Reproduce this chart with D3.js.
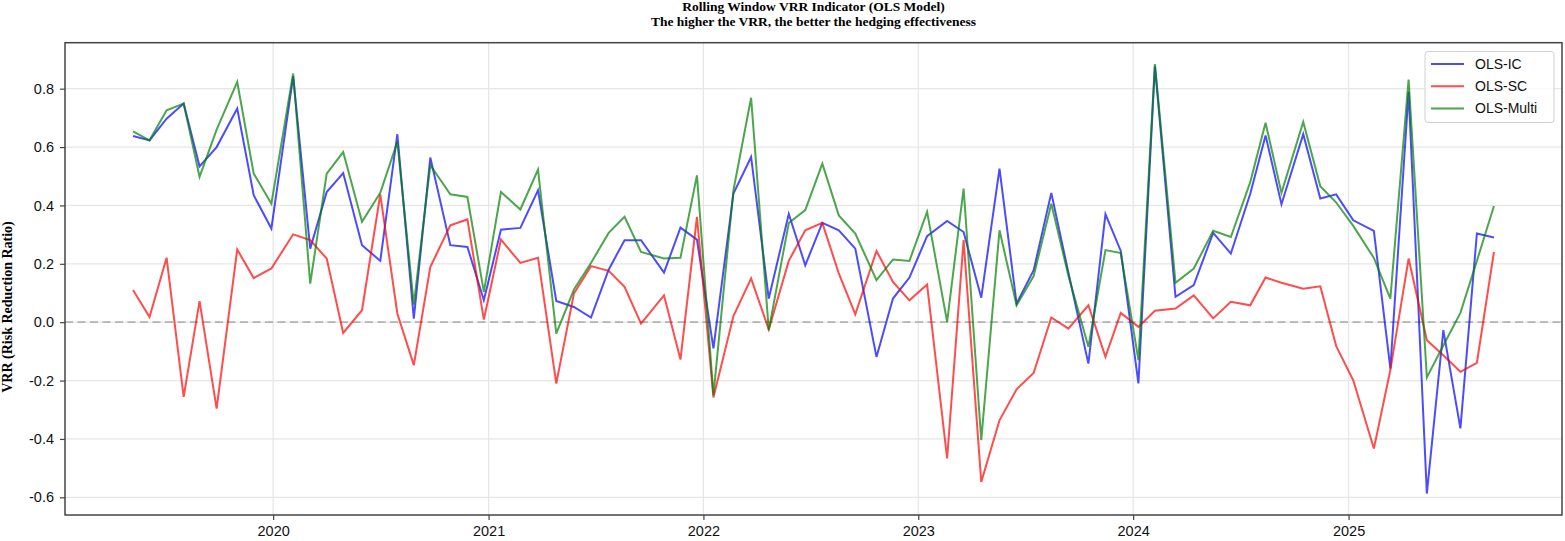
<!DOCTYPE html>
<html>
<head>
    <title>Rolling Window VRR</title>
    <meta charset="UTF-8">
    <script src="https://d3js.org/d3.v7.min.js"></script>
    <style>
        body { margin: 0; background: #fff; }
        svg { display: block; }
    </style>
</head>
<body>
<svg width="1565" height="541"></svg>
<script>
    // observation dates (every ~20 trading days)
    var dates = [
        "2019-05-08","2019-06-05","2019-07-04","2019-08-02","2019-08-29","2019-09-27","2019-11-01","2019-11-29","2019-12-29",
        "2020-02-04","2020-03-04","2020-04-01","2020-04-29","2020-05-31","2020-07-01","2020-07-30","2020-08-27","2020-09-24","2020-10-28","2020-11-26","2020-12-24",
        "2021-01-22","2021-02-24","2021-03-26","2021-04-26","2021-05-26","2021-06-24","2021-07-24","2021-08-20","2021-09-17","2021-10-26","2021-11-23","2021-12-21",
        "2022-01-18","2022-02-21","2022-03-23","2022-04-22","2022-05-26","2022-06-23","2022-07-22","2022-08-19","2022-09-16","2022-10-22","2022-11-19","2022-12-17",
        "2023-01-16","2023-02-19","2023-03-19","2023-04-18","2023-05-19","2023-06-17","2023-07-16","2023-08-15","2023-09-13","2023-10-17","2023-11-15","2023-12-11",
        "2024-01-10","2024-02-07","2024-03-13","2024-04-13","2024-05-16","2024-06-15","2024-07-18","2024-08-13","2024-09-09","2024-10-16","2024-11-14","2024-12-11",
        "2025-01-09","2025-02-13","2025-03-13","2025-04-13","2025-05-14","2025-06-11","2025-07-10","2025-08-07","2025-09-05"
    ];

    var olsIC = [
        0.638, 0.623, 0.697, 0.749, 0.534, 0.600, 0.732, 0.435, 0.321,
        0.842, 0.252, 0.446, 0.511, 0.264, 0.210, 0.644, 0.012, 0.564, 0.264, 0.258, 0.075,
        0.317, 0.323, 0.452, 0.073, 0.052, 0.016, 0.180, 0.281, 0.281, 0.170, 0.324, 0.283,
        -0.090, 0.441, 0.566, 0.081, 0.371, 0.195, 0.340, 0.315, 0.252, -0.119, 0.081, 0.153,
        0.295, 0.347, 0.309, 0.084, 0.526, 0.064, 0.178, 0.443, 0.170, -0.142, 0.370, 0.244,
        -0.210, 0.877, 0.087, 0.127, 0.306, 0.235, 0.440, 0.640, 0.404, 0.644, 0.424, 0.438,
        0.349, 0.313, -0.159, 0.789, -0.587, -0.027, -0.364, 0.304, 0.290
    ];

    var olsSC = [
        0.110, 0.018, 0.221, -0.256, 0.072, -0.296, 0.249, 0.151, 0.184,
        0.301, 0.281, 0.218, -0.037, 0.041, 0.438, 0.030, -0.147, 0.189, 0.332, 0.352, 0.009,
        0.283, 0.203, 0.221, -0.210, 0.098, 0.192, 0.176, 0.121, -0.005, 0.092, -0.128, 0.361,
        -0.258, 0.021, 0.150, -0.025, 0.210, 0.315, 0.340, 0.167, 0.027, 0.244, 0.138, 0.075,
        0.129, -0.467, 0.281, -0.547, -0.336, -0.230, -0.174, 0.016, -0.022, 0.058, -0.119, 0.032,
        -0.016, 0.039, 0.047, 0.092, 0.013, 0.070, 0.058, 0.153, 0.135, 0.115, 0.123, -0.082,
        -0.199, -0.433, -0.164, 0.218, -0.062, -0.113, -0.170, -0.139, 0.241
    ];

    var olsMulti = [
        0.654, 0.623, 0.726, 0.749, 0.498, 0.660, 0.823, 0.509, 0.406,
        0.852, 0.132, 0.509, 0.583, 0.344, 0.443, 0.618, 0.060, 0.538, 0.438, 0.429, 0.104,
        0.446, 0.386, 0.523, -0.039, 0.112, 0.203, 0.306, 0.361, 0.241, 0.218, 0.221, 0.503,
        -0.250, 0.452, 0.769, -0.027, 0.340, 0.384, 0.543, 0.366, 0.304, 0.144, 0.215, 0.210,
        0.378, 0.001, 0.458, -0.404, 0.315, 0.058, 0.158, 0.406, 0.160, -0.084, 0.247, 0.237,
        -0.130, 0.884, 0.135, 0.184, 0.313, 0.292, 0.480, 0.683, 0.443, 0.686, 0.466, 0.410,
        0.330, 0.220, 0.081, 0.831, -0.189, -0.080, 0.032, 0.210, 0.398
    ];

    var seriesNames = ["OLS-IC", "OLS-SC", "OLS-Multi"];
    var seriesColors = ["blue", "red", "green"];
    var yTicks = [-0.6, -0.4, -0.2, 0.0, 0.2, 0.4, 0.6, 0.8];
    var xTicks = ["2020", "2021", "2022", "2023", "2024", "2025"];

    var plotLeft = 65, plotRight = 1562, plotTop = 42.7, plotBottom = 515;

    var parse = d3.timeParse("%Y-%m-%d");
    var dt = dates.map(parse);
    var allSeries = [olsIC, olsSC, olsMulti];

    // matplotlib style 5% margins
    var t0 = +dt[0], t1 = +dt[dt.length - 1], tpad = (t1 - t0) * 0.05;
    var vmin = d3.min(allSeries, function(s) { return d3.min(s); }),
        vmax = d3.max(allSeries, function(s) { return d3.max(s); }),
        vpad = (vmax - vmin) * 0.05;

    var x = d3.scaleTime().domain([new Date(t0 - tpad), new Date(t1 + tpad)]).range([plotLeft, plotRight]);
    var y = d3.scaleLinear().domain([vmin - vpad, vmax + vpad]).range([plotBottom, plotTop]);

    var svg = d3.select("svg");

    // grid
    svg.append("g").selectAll("line")
        .data(yTicks)
        .enter()
        .append("line")
        .attr("x1", plotLeft).attr("x2", plotRight)
        .attr("y1", function(d) { return y(d); })
        .attr("y2", function(d) { return y(d); })
        .attr("stroke", "#e6e6e6")
        .attr("stroke-width", 1.2);

    var yearDates = xTicks.map(function(s) { return parse(s + "-01-01"); });

    svg.append("g").selectAll("line")
        .data(yearDates)
        .enter()
        .append("line")
        .attr("x1", function(d) { return x(d); })
        .attr("x2", function(d) { return x(d); })
        .attr("y1", plotTop).attr("y2", plotBottom)
        .attr("stroke", "#e6e6e6")
        .attr("stroke-width", 1.2);

    // zero reference line
    svg.append("line")
        .attr("x1", plotLeft).attr("x2", plotRight)
        .attr("y1", y(0)).attr("y2", y(0))
        .attr("stroke", "#b3b3b3")
        .attr("stroke-width", 1.8)
        .attr("stroke-dasharray", "8,4.5");

    // series
    var line = d3.line()
        .x(function(d, i) { return x(dt[i]); })
        .y(function(d) { return y(d); });

    allSeries.forEach(function(s, k) {
        svg.append("path")
            .datum(s)
            .attr("d", line)
            .attr("fill", "none")
            .attr("stroke", seriesColors[k])
            .attr("stroke-opacity", 0.7)
            .attr("stroke-width", 2)
            .attr("stroke-linejoin", "miter");
    });

    // axes
    var yAxis = d3.axisLeft(y)
        .tickValues(yTicks)
        .tickSize(5)
        .tickPadding(6)
        .tickFormat(function(d) { return d.toFixed(1); });

    var xAxis = d3.axisBottom(x)
        .tickValues(yearDates)
        .tickSize(5)
        .tickPadding(6)
        .tickFormat(d3.timeFormat("%Y"));

    var gy = svg.append("g").attr("transform", "translate(" + plotLeft + ",0)").call(yAxis);
    var gx = svg.append("g").attr("transform", "translate(0," + plotBottom + ")").call(xAxis);

    [gx, gy].forEach(function(g) {
        g.select(".domain").remove();
        g.selectAll(".tick line").attr("stroke", "#444").attr("stroke-width", 1.2);
        g.selectAll(".tick text")
            .attr("fill", "#111")
            .style("font-family", "'Liberation Sans', Arial, Helvetica, sans-serif")
            .style("font-size", "14.5px");
    });

    // frame
    svg.append("rect")
        .attr("x", plotLeft).attr("y", plotTop)
        .attr("width", plotRight - plotLeft).attr("height", plotBottom - plotTop)
        .attr("fill", "none")
        .attr("stroke", "#444")
        .attr("stroke-width", 1.5);

    // titles
    var serif = "'Liberation Serif', 'Times New Roman', Times, serif";
    var cx = (plotLeft + plotRight) / 2;
    svg.append("text")
        .attr("x", cx).attr("y", 11)
        .attr("text-anchor", "middle")
        .style("font-family", serif).style("font-weight", "bold").style("font-size", "13.5px")
        .text("Rolling Window VRR Indicator (OLS Model)");
    svg.append("text")
        .attr("x", cx).attr("y", 26)
        .attr("text-anchor", "middle")
        .style("font-family", serif).style("font-weight", "bold").style("font-size", "13.5px")
        .text("The higher the VRR, the better the hedging effectiveness");

    svg.append("text")
        .attr("transform", "translate(7,307) rotate(-90)")
        .attr("text-anchor", "middle")
        .attr("dominant-baseline", "central")
        .style("font-family", serif).style("font-weight", "bold").style("font-size", "14px")
        .text("VRR (Risk Reduction Ratio)");

    // legend
    var lg = svg.append("g").attr("transform", "translate(1425,51.5)");
    lg.append("rect")
        .attr("width", 129).attr("height", 71)
        .attr("rx", 3)
        .attr("fill", "#fff").attr("fill-opacity", 0.8)
        .attr("stroke", "#d0d0d0").attr("stroke-width", 1);

    var items = lg.selectAll("g.item")
        .data(seriesNames)
        .enter()
        .append("g")
        .attr("class", "item")
        .attr("transform", function(d, i) { return "translate(0," + (12.5 + i * 22.2) + ")"; });

    items.append("line")
        .attr("x1", 6).attr("x2", 39)
        .attr("stroke", function(d, i) { return seriesColors[i]; })
        .attr("stroke-opacity", 0.7)
        .attr("stroke-width", 2);

    items.append("text")
        .attr("x", 50)
        .attr("dominant-baseline", "central")
        .attr("fill", "#111")
        .style("font-family", "'Liberation Sans', Arial, Helvetica, sans-serif")
        .style("font-size", "14px")
        .text(function(d) { return d; });
</script>
</body>
</html>
